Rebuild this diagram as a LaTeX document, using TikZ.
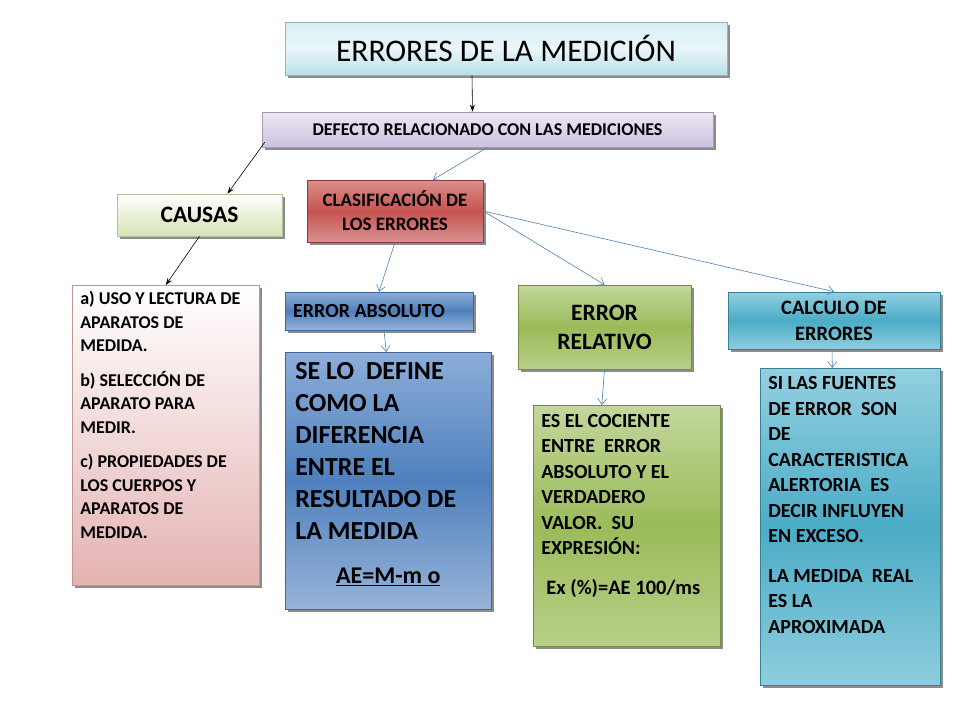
\documentclass[tikz,border=0pt]{standalone}
\usepackage{fontspec}
\setmainfont{Carlito}
\usetikzlibrary{arrows.meta, shadows}
\definecolor{linkblue}{HTML}{4F81BD}
\definecolor{titletop}{HTML}{D6EEF4}
\definecolor{titlemid}{HTML}{E9F6F9}
\definecolor{titlebot}{HTML}{B9E0EA}
\definecolor{deftop}{HTML}{EEE8F5}
\definecolor{defbot}{HTML}{CDC1E0}
\definecolor{causebot}{HTML}{D5E3B5}
\definecolor{redtop}{HTML}{DC8E8D}
\definecolor{redmid}{HTML}{C4534F}
\definecolor{redbot}{HTML}{DA9291}
\definecolor{pinkbot}{HTML}{E4B3B2}
\definecolor{bluetop}{HTML}{8CADD9}
\definecolor{bluemid}{HTML}{4F80BD}
\definecolor{bluebot}{HTML}{97B4D8}
\definecolor{greentop}{HTML}{C3D79C}
\definecolor{greenmid}{HTML}{9BBB59}
\definecolor{greenbot}{HTML}{B8CF88}
\definecolor{tealtop}{HTML}{93D0E0}
\definecolor{tealmid}{HTML}{4BACC6}
\definecolor{tealbot}{HTML}{8FCDDE}
\newcommand{\boxtext}[3]{\parbox[t][#1][t]{#2}{\raggedright #3}}

\begin{document}
\begin{tikzpicture}[
    x=1pt, y=-1pt,
    every node/.style={font=\bfseries},
    box/.style={line width=0.6pt, align=center, inner sep=0pt,
        drop shadow={shadow xshift=3pt, shadow yshift=-3pt, opacity=0.6, fill=black!75}},
    titlebox/.style={box, top color=titletop, bottom color=titlebot, middle color=titlemid, draw=titlebot!80!black},
    defbox/.style={box, top color=deftop, bottom color=defbot, draw=defbot!80!black},
    causebox/.style={box, top color=white, bottom color=causebot, draw=causebot!85!black},
    redbox/.style={box, top color=redtop, bottom color=redbot, middle color=redmid, draw=redmid!70!black},
    pinkbox/.style={box, top color=white, bottom color=pinkbot, draw=pinkbot!85!black},
    bluebox/.style={box, top color=bluetop, bottom color=bluebot, middle color=bluemid, draw=bluemid!80!black},
    greenbox/.style={box, top color=greentop, bottom color=greenbot, middle color=greenmid, draw=greenmid!75!black},
    tealbox/.style={box, top color=tealtop, bottom color=tealbot, middle color=tealmid, draw=tealmid!75!black},
    txt/.style={align=left, inner xsep=8pt, inner ysep=6pt, anchor=north west},
    blackarrow/.style={-{Stealth[length=7pt, width=5pt]}, line width=0.6pt, draw=black},
    bluearrow/.style={-{Straight Barb[length=6pt, width=9pt]}, line width=0.6pt, draw=linkblue}
]
    \useasboundingbox[fill=white] (0,0) rectangle (960,720);

    % Top of the map
    \node[titlebox, minimum width=442pt, minimum height=53pt, font=\fontsize{31.5pt}{34pt}\selectfont] (title) at (506,48.5) {ERRORES DE LA MEDICIÓN};
    \node[defbox, minimum width=451pt, minimum height=35pt, font=\fontsize{18pt}{20pt}\selectfont\bfseries] (defecto) at (487.5,129.5) {DEFECTO RELACIONADO CON LAS MEDICIONES};

    % Second level
    \node[causebox, minimum width=165pt, minimum height=42pt, font=\fontsize{23.5pt}{26pt}\selectfont\bfseries] (causas) at (199.5,215) {CAUSAS};
    \node[redbox, minimum width=176pt, minimum height=62pt, font=\fontsize{19pt}{24pt}\selectfont\bfseries] (clasif) at (395,211) {CLASIFICACIÓN DE\\LOS ERRORES};

    % Third level
    \node[bluebox, minimum width=188pt, minimum height=38pt, font=\fontsize{20pt}{22pt}\selectfont\bfseries] (absoluto) at (379,311) {\hspace*{-20pt}ERROR ABSOLUTO};
    \node[greenbox, minimum width=173pt, minimum height=84pt, font=\fontsize{23.5pt}{29pt}\selectfont\bfseries] (relativo) at (604.5,327) {ERROR\\RELATIVO};
    \node[tealbox, minimum width=212pt, minimum height=57pt, font=\fontsize{20.5pt}{26pt}\selectfont\bfseries] (calculo) at (834,320.5) {CALCULO DE\\ERRORES};

    % Detail boxes
    \node[pinkbox, txt, font=\fontsize{18pt}{23.5pt}\selectfont\bfseries] (causaslist) at (72,285)
        {\boxtext{288pt}{171pt}{a) USO Y LECTURA DE\\APARATOS DE\\MEDIDA.\par\vspace{11pt}
        b) SELECCIÓN DE\\APARATO PARA\\MEDIR.\par\vspace{11pt}
        c) PROPIEDADES DE\\LOS CUERPOS Y\\APARATOS DE\\MEDIDA.}};
    \node[bluebox, txt, inner xsep=10pt, inner ysep=10pt, font=\fontsize{26pt}{32pt}\selectfont\bfseries] (absdef) at (285,352)
        {\boxtext{237pt}{186pt}{SE LO\ \ DEFINE\\COMO LA\\DIFERENCIA\\ENTRE EL\\RESULTADO DE\\LA MEDIDA\par\vspace{18pt}
        {\centering\fontsize{24pt}{26pt}\selectfont\underline{AE=M-m o}\par}}};
    \node[greenbox, txt, inner ysep=9pt, font=\fontsize{20pt}{25.5pt}\selectfont\bfseries] (reldef) at (533,405)
        {\boxtext{223pt}{171pt}{ES EL COCIENTE\\ENTRE\ \ ERROR\\ABSOLUTO Y EL\\VERDADERO\\VALOR.\ \ SU\\EXPRESIÓN:\par\vspace{14pt}
        \hspace*{5pt}{\fontsize{20.5pt}{24pt}\selectfont Ex (\%)=AE 100/ms}}};
    \node[tealbox, txt, inner ysep=8.5pt, font=\fontsize{20pt}{25.5pt}\selectfont\bfseries] (caldef) at (760,368)
        {\boxtext{300pt}{164pt}{SI LAS FUENTES\\DE ERROR\ \ SON\\DE\\CARACTERISTICA\\ALERTORIA\ \ ES\\DECIR INFLUYEN\\EN EXCESO.\par\vspace{14pt}
        LA MEDIDA\ \ REAL\\ES LA\\APROXIMADA}};

    % Arrows
    \draw[blackarrow] ([xshift=-34pt]title.south) -- ([xshift=-15pt]defecto.north);
    \draw[blackarrow] ([shift={(3pt,5pt)}]defecto.south west) -- ([xshift=28pt]causas.north);
    \draw[blackarrow] (causas.south) -- (causaslist.north);
    \draw[bluearrow] (defecto.south) -- ([xshift=38pt]clasif.north);
    \draw[bluearrow] (clasif.south) -- (absoluto.north);
    \draw[bluearrow] (clasif.east) -- (relativo.north);
    \draw[bluearrow] (clasif.east) -- (calculo.north);
    \draw[bluearrow] ([xshift=5pt]absoluto.south) -- ([xshift=-2pt]absdef.north);
    \draw[bluearrow] (relativo.south) -- ([xshift=-25pt]reldef.north);
    \draw[bluearrow] ([xshift=-2pt]calculo.south) -- ([xshift=-18pt]caldef.north);
\end{tikzpicture}
\end{document}
